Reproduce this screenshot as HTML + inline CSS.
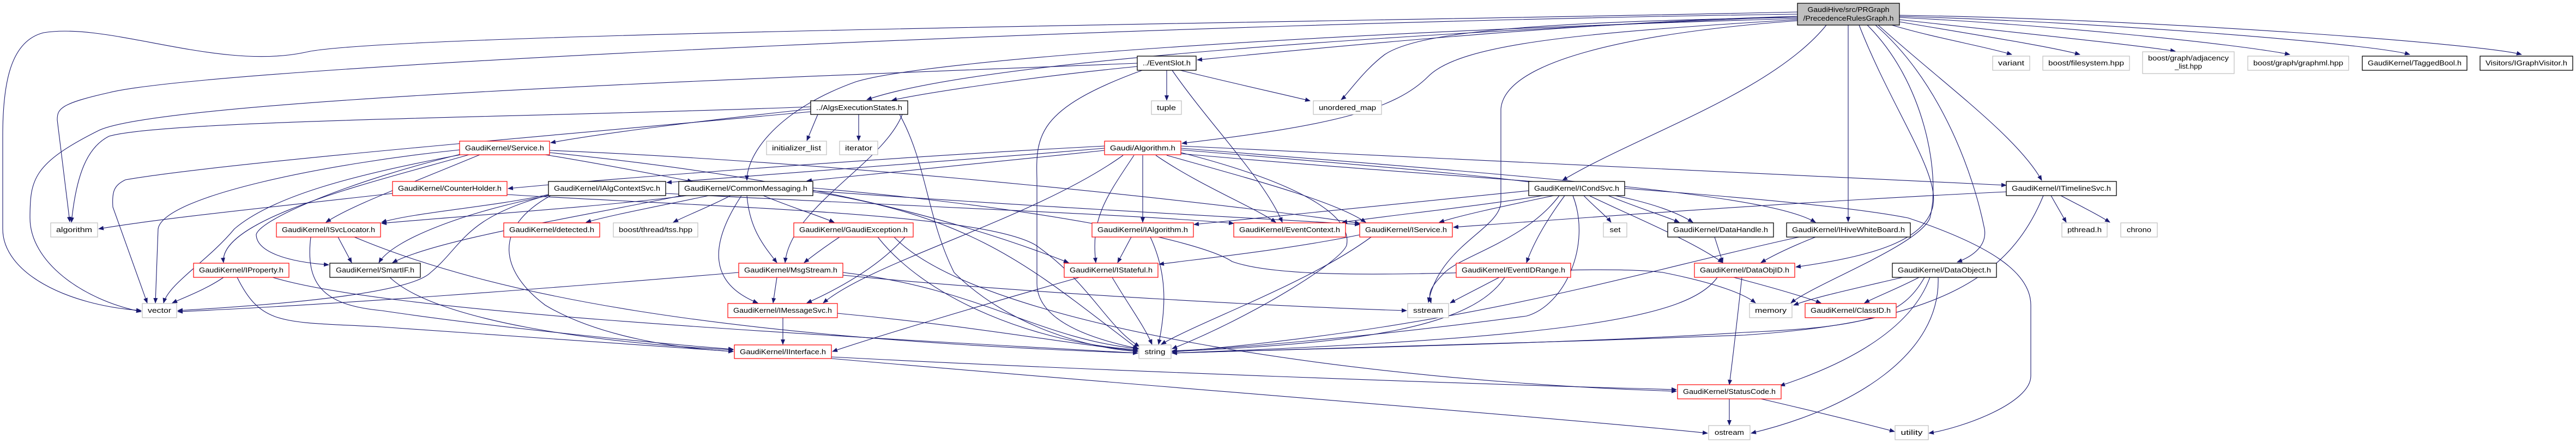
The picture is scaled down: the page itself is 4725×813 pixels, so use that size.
<!DOCTYPE html>
<html><head><meta charset="utf-8"><style>
html,body{margin:0;padding:0;background:#fff;}
svg{display:block;}
text{font-family:"Liberation Sans",sans-serif;font-size:12.5px;fill:#000;}
.e{fill:none;stroke:#191970;stroke-width:1.1;marker-end:url(#a);}
.r{fill:#fff;stroke:#ff0000;stroke-width:1.2;}
.k{fill:#fff;stroke:#000;stroke-width:1.3;}
.g{fill:#fff;stroke:#bfbfbf;stroke-width:1.2;}
</style></head><body>
<svg width="4725" height="813" viewBox="0 0 4725 813" xmlns="http://www.w3.org/2000/svg">
<defs><marker id="a" viewBox="0 0 10 8" refX="9" refY="4" markerWidth="10" markerHeight="8" markerUnits="userSpaceOnUse" orient="auto"><path d="M0,0 L10,4 L0,8 z" fill="#191970"/></marker></defs>
<g>
<path class="e" d="M3297,22 C2500,40 700,60 560,96 C400,130 200,40 80,60 C20,75 5,150 5,250 L5,420 C5,500 120,560 259,570"/>
<path class="e" d="M3297,26 C2200,40 400,120 200,170 C110,190 105,200 105,220 L128,407"/>
<path class="e" d="M3297,30 C2600,60 1800,110 1590,183"/>
<path class="e" d="M3297,34 C2400,60 1700,110 1570,150 C1430,200 1370,280 1370,331"/>
<path class="e" d="M3297,30 C2900,40 2400,90 2196,110"/>
<path class="e" d="M3297,32 C2800,40 2600,60 2540,100 C2500,130 2470,175 2460,183"/>
<path class="e" d="M3297,36 C2900,60 2680,80 2620,140 C2560,200 2450,230 2168,263"/>
<path class="e" d="M3297,38 C3000,60 2760,110 2753,200 L2753,370 C2753,420 2640,450 2620,555"/>
<path class="e" d="M3350,46 C3250,170 3000,250 2866,331"/>
<path class="e" d="M3390,46 L3390,407"/>
<path class="e" d="M3410,46 C3470,200 3560,320 3545,380 C3530,440 3440,470 3294,490"/>
<path class="e" d="M3440,46 C3560,150 3620,320 3640,420 C3645,450 3620,470 3590,481"/>
<path class="e" d="M3445,46 C3560,150 3700,250 3745,331"/>
<path class="e" d="M3470,46 C3550,70 3640,85 3690,100"/>
<path class="e" d="M3484,40 C3600,60 3760,85 3815,100"/>
<path class="e" d="M3484,36 C3650,55 3900,80 3990,94"/>
<path class="e" d="M3484,32 C3750,45 4100,80 4200,100"/>
<path class="e" d="M3484,30 C3850,40 4350,80 4420,100"/>
<path class="e" d="M3484,28 C3950,35 4550,80 4625,100"/>
<path class="e" d="M3425,46 C3530,150 3560,320 3540,400 C3520,450 3330,520 3285,556"/>
<path class="e" d="M2086,122 C1900,140 1700,170 1636,184"/>
<path class="e" d="M2140,129 L2140,184"/>
<path class="e" d="M2165,129 C2250,150 2340,170 2403,185"/>
<path class="e" d="M2150,129 C2220,230 2320,330 2352,408"/>
<path class="e" d="M2095,129 C1900,200 1900,250 1902,330 L1902,520 C1902,600 2040,630 2089,640"/>
<path class="e" d="M2086,116 C1500,140 300,180 180,240 C60,300 55,330 55,400 C55,480 150,550 259,572"/>
<path class="e" d="M1500,210 L1480,258"/>
<path class="e" d="M1575,210 L1575,258"/>
<path class="e" d="M1487,200 C1300,220 1100,245 1010,262"/>
<path class="e" d="M1487,196 C1000,215 300,220 200,250 C160,270 140,320 131,408"/>
<path class="e" d="M1487,205 C1000,250 400,300 230,330 C210,340 205,350 207,380 L270,556"/>
<path class="e" d="M1655,210 C1620,300 1450,380 1440,482"/>
<path class="e" d="M1650,210 C1700,300 1700,400 1750,500 C1850,600 2000,640 2087,645"/>
<path class="e" d="M2026,268 C1600,290 1100,330 932,346"/>
<path class="e" d="M2026,272 C1700,300 1350,325 1223,335"/>
<path class="e" d="M2026,276 C1800,300 1550,325 1480,332"/>
<path class="e" d="M2096,285 L2096,408"/>
<path class="e" d="M2120,285 C2200,340 2300,380 2340,408"/>
<path class="e" d="M2140,285 C2300,330 2450,370 2505,408"/>
<path class="e" d="M2080,285 C2030,360 2000,400 2010,482"/>
<path class="e" d="M2060,285 C1900,400 1600,480 1510,556"/>
<path class="e" d="M2166,280 C2400,340 2480,400 2470,450 C2460,480 2300,580 2150,640"/>
<path class="e" d="M2166,275 C2700,320 3000,340 3105,408"/>
<path class="e" d="M2166,268 C2800,300 3400,330 3680,340"/>
<path class="e" d="M2166,272 C2900,330 3250,360 3330,408"/>
<path class="e" d="M2166,282 C2700,330 3300,360 3500,400 C3650,450 3725,500 3725,560 L3725,690 C3725,740 3600,785 3538,795"/>
<path class="e" d="M1491,345 C1900,380 2200,440 2260,480 C2400,530 2900,480 3050,500 C3150,520 3200,540 3220,556"/>
<path class="e" d="M843,275 C600,300 300,360 290,420 L285,556"/>
<path class="e" d="M850,283 C650,320 500,360 430,420 C380,480 310,520 300,556"/>
<path class="e" d="M860,284 C700,330 400,400 410,482"/>
<path class="e" d="M880,284 C720,350 640,380 598,408"/>
<path class="e" d="M845,283 C650,330 480,400 470,430 C470,460 520,480 603,486"/>
<path class="e" d="M1000,284 C1100,300 1200,320 1270,333"/>
<path class="e" d="M1008,276 C1600,300 2300,380 2494,410"/>
<path class="e" d="M1008,280 C1400,320 1700,380 1960,482"/>
<path class="e" d="M720,355 C500,380 300,400 181,420"/>
<path class="e" d="M930,357 C1300,380 1800,390 1900,450 C2000,520 2030,600 2090,636"/>
<path class="e" d="M1006,357 C900,380 760,390 700,408"/>
<path class="e" d="M1006,359 C850,390 720,440 695,482"/>
<path class="e" d="M1006,358 C850,400 850,450 790,500 C750,540 500,560 326,570"/>
<path class="e" d="M1010,359 C900,420 920,500 1000,560 C1100,620 1250,640 1345,645"/>
<path class="e" d="M1221,355 C1700,380 2100,395 2263,410"/>
<path class="e" d="M1260,359 C1100,380 800,400 700,410"/>
<path class="e" d="M1250,359 C1050,400 800,440 720,482"/>
<path class="e" d="M1300,359 C1200,380 1120,395 1075,408"/>
<path class="e" d="M1340,359 C1300,380 1260,395 1235,408"/>
<path class="e" d="M1400,359 C1450,380 1500,395 1530,408"/>
<path class="e" d="M1370,359 C1375,420 1400,450 1425,482"/>
<path class="e" d="M1360,359 C1300,450 1300,520 1390,556"/>
<path class="e" d="M1491,350 C1900,380 2300,400 2494,412"/>
<path class="e" d="M1491,352 C1800,400 1900,500 2087,640"/>
<path class="e" d="M620,435 L645,482"/>
<path class="e" d="M570,435 C560,520 590,560 700,570 C900,600 1200,630 1345,641"/>
<path class="e" d="M650,435 C900,540 1300,620 2087,648"/>
<path class="e" d="M410,509 C380,530 340,545 316,556"/>
<path class="e" d="M435,509 C480,600 520,590 700,600 C1000,620 1250,640 1345,645"/>
<path class="e" d="M500,509 C700,570 1400,610 2087,648"/>
<path class="e" d="M715,509 C800,590 1100,630 1345,642"/>
<path class="e" d="M1355,500 C1000,530 600,560 326,572"/>
<path class="e" d="M1425,509 L1418,556"/>
<path class="e" d="M1546,500 C1800,530 1900,620 2087,640"/>
<path class="e" d="M1546,505 C1900,540 2400,565 2580,570"/>
<path class="e" d="M1436,583 L1436,632"/>
<path class="e" d="M1536,575 C1800,600 1950,630 2087,644"/>
<path class="e" d="M1540,435 C1510,455 1490,470 1475,482"/>
<path class="e" d="M1660,435 C1620,480 1560,520 1480,556"/>
<path class="e" d="M1610,435 C1700,550 1900,630 2087,642"/>
<path class="e" d="M1640,435 C1800,600 2500,700 3075,718"/>
<path class="e" d="M1525,655 C2000,680 2700,705 3075,715"/>
<path class="e" d="M1525,658 C2000,700 2900,770 3132,795"/>
<path class="e" d="M1980,509 C1800,560 1600,620 1527,645"/>
<path class="e" d="M2075,435 L2050,482"/>
<path class="e" d="M2110,435 C2140,500 2140,560 2125,632"/>
<path class="e" d="M2494,431 C2350,460 2200,475 2126,485"/>
<path class="e" d="M2515,435 C2400,520 2200,590 2130,632"/>
<path class="e" d="M2040,509 C2070,560 2100,600 2113,632"/>
<path class="e" d="M2804,350 C2500,380 2300,400 2190,412"/>
<path class="e" d="M2830,359 C2700,380 2550,395 2462,408"/>
<path class="e" d="M2850,359 C2750,380 2680,395 2640,408"/>
<path class="e" d="M2905,359 C2925,380 2945,395 2955,408"/>
<path class="e" d="M2950,359 C3000,380 3050,395 3080,408"/>
<path class="e" d="M2870,359 C2840,400 2815,440 2800,482"/>
<path class="e" d="M2915,359 C3000,400 3100,440 3160,482"/>
<path class="e" d="M2885,359 C2920,450 2870,560 2800,580 C2500,620 2250,640 2150,644"/>
<path class="e" d="M2860,359 C2800,440 2680,470 2650,500 C2620,530 2620,540 2625,556"/>
<path class="e" d="M2750,509 C2710,530 2680,545 2660,556"/>
<path class="e" d="M2760,509 C2700,600 2500,630 2150,645"/>
<path class="e" d="M3145,435 L3160,482"/>
<path class="e" d="M3330,435 C3280,455 3250,470 3230,482"/>
<path class="e" d="M3300,435 C3000,500 2700,600 2150,646"/>
<path class="e" d="M3680,352 C3300,370 2900,400 2666,417"/>
<path class="e" d="M3180,509 C3260,530 3310,545 3340,556"/>
<path class="e" d="M3195,509 C3185,600 3178,660 3172,706"/>
<path class="e" d="M3150,509 C3100,580 2900,620 2150,648"/>
<path class="e" d="M3490,509 C3400,530 3330,545 3290,560"/>
<path class="e" d="M3520,509 C3480,530 3440,545 3420,556"/>
<path class="e" d="M3540,509 C3500,620 3350,680 3265,708"/>
<path class="e" d="M3555,509 C3560,650 3400,750 3212,795"/>
<path class="e" d="M3530,509 C3490,580 3430,600 3200,610 C2900,630 2400,640 2150,648"/>
<path class="e" d="M3762,359 L3790,408"/>
<path class="e" d="M3780,359 C3820,380 3850,395 3870,408"/>
<path class="e" d="M3748,359 C3690,500 3570,590 3200,615 C2800,630 2300,645 2150,648"/>
<path class="e" d="M3172,732 L3172,780"/>
<path class="e" d="M3230,732 C3350,760 3430,780 3475,792"/>
</g>
<g>
<rect x="3297" y="6" width="187" height="40" fill="#bfbfbf" stroke="#000" stroke-width="1.3"/>
<text x="3390.5" y="22" text-anchor="middle" textLength="150" lengthAdjust="spacingAndGlyphs">GaudiHive/src/PRGraph</text>
<text x="3390.5" y="38" text-anchor="middle" textLength="166" lengthAdjust="spacingAndGlyphs">/PrecedenceRulesGraph.h</text>

<rect class="k" x="2086" y="103" width="108" height="26"/><text x="2140" y="120" text-anchor="middle" textLength="88" lengthAdjust="spacingAndGlyphs">../EventSlot.h</text>
<rect class="g" x="3655" y="103" width="68" height="26"/><text x="3689" y="120" text-anchor="middle" textLength="48" lengthAdjust="spacingAndGlyphs">variant</text>
<rect class="g" x="3747" y="103" width="159" height="26"/><text x="3826.5" y="120" text-anchor="middle" textLength="139" lengthAdjust="spacingAndGlyphs">boost/filesystem.hpp</text>
<rect class="g" x="3930" y="95" width="168" height="40"/><text x="4014" y="111" text-anchor="middle" textLength="148" lengthAdjust="spacingAndGlyphs">boost/graph/adjacency</text><text x="4014" y="126" text-anchor="middle" textLength="50" lengthAdjust="spacingAndGlyphs">_list.hpp</text>
<rect class="g" x="4123" y="103" width="185" height="26"/><text x="4215.5" y="120" text-anchor="middle" textLength="165" lengthAdjust="spacingAndGlyphs">boost/graph/graphml.hpp</text>
<rect class="k" x="4333" y="103" width="192" height="26"/><text x="4429" y="120" text-anchor="middle" textLength="172" lengthAdjust="spacingAndGlyphs">GaudiKernel/TaggedBool.h</text>
<rect class="k" x="4549" y="103" width="170" height="26"/><text x="4634" y="120" text-anchor="middle" textLength="150" lengthAdjust="spacingAndGlyphs">Visitors/IGraphVisitor.h</text>

<rect class="k" x="1487" y="185" width="178" height="25"/><text x="1576" y="202" text-anchor="middle" textLength="158" lengthAdjust="spacingAndGlyphs">../AlgsExecutionStates.h</text>
<rect class="g" x="2112" y="185" width="55" height="25"/><text x="2139.5" y="202" text-anchor="middle" textLength="35" lengthAdjust="spacingAndGlyphs">tuple</text>
<rect class="g" x="2409" y="185" width="125" height="25"/><text x="2471.5" y="202" text-anchor="middle" textLength="105" lengthAdjust="spacingAndGlyphs">unordered_map</text>

<rect class="g" x="1406" y="259" width="110" height="25"/><text x="1461" y="276" text-anchor="middle" textLength="90" lengthAdjust="spacingAndGlyphs">initializer_list</text>
<rect class="g" x="1540" y="259" width="70" height="25"/><text x="1575" y="276" text-anchor="middle" textLength="50" lengthAdjust="spacingAndGlyphs">iterator</text>
<rect class="r" x="843" y="259" width="165" height="25"/><text x="925.5" y="276" text-anchor="middle" textLength="145" lengthAdjust="spacingAndGlyphs">GaudiKernel/Service.h</text>
<rect class="r" x="2026" y="259" width="140" height="25"/><text x="2096" y="276" text-anchor="middle" textLength="120" lengthAdjust="spacingAndGlyphs">Gaudi/Algorithm.h</text>

<rect class="r" x="720" y="333" width="210" height="26"/><text x="825" y="350" text-anchor="middle" textLength="190" lengthAdjust="spacingAndGlyphs">GaudiKernel/CounterHolder.h</text>
<rect class="k" x="1006" y="333" width="215" height="26"/><text x="1113.5" y="350" text-anchor="middle" textLength="195" lengthAdjust="spacingAndGlyphs">GaudiKernel/IAlgContextSvc.h</text>
<rect class="k" x="1245" y="333" width="246" height="26"/><text x="1368" y="350" text-anchor="middle" textLength="226" lengthAdjust="spacingAndGlyphs">GaudiKernel/CommonMessaging.h</text>
<rect class="k" x="2804" y="333" width="176" height="26"/><text x="2892" y="350" text-anchor="middle" textLength="156" lengthAdjust="spacingAndGlyphs">GaudiKernel/ICondSvc.h</text>
<rect class="k" x="3680" y="333" width="202" height="26"/><text x="3781" y="350" text-anchor="middle" textLength="182" lengthAdjust="spacingAndGlyphs">GaudiKernel/ITimelineSvc.h</text>

<rect class="g" x="93" y="409" width="86" height="26"/><text x="136" y="426" text-anchor="middle" textLength="66" lengthAdjust="spacingAndGlyphs">algorithm</text>
<rect class="r" x="507" y="409" width="191" height="26"/><text x="602.5" y="426" text-anchor="middle" textLength="171" lengthAdjust="spacingAndGlyphs">GaudiKernel/ISvcLocator.h</text>
<rect class="r" x="924" y="409" width="176" height="26"/><text x="1012" y="426" text-anchor="middle" textLength="156" lengthAdjust="spacingAndGlyphs">GaudiKernel/detected.h</text>
<rect class="g" x="1125" y="409" width="155" height="26"/><text x="1202.5" y="426" text-anchor="middle" textLength="135" lengthAdjust="spacingAndGlyphs">boost/thread/tss.hpp</text>
<rect class="r" x="1456" y="409" width="219" height="26"/><text x="1565.5" y="426" text-anchor="middle" textLength="199" lengthAdjust="spacingAndGlyphs">GaudiKernel/GaudiException.h</text>
<rect class="r" x="2003" y="409" width="186" height="26"/><text x="2096" y="426" text-anchor="middle" textLength="166" lengthAdjust="spacingAndGlyphs">GaudiKernel/IAlgorithm.h</text>
<rect class="r" x="2263" y="409" width="205" height="26"/><text x="2365.5" y="426" text-anchor="middle" textLength="185" lengthAdjust="spacingAndGlyphs">GaudiKernel/EventContext.h</text>
<rect class="r" x="2494" y="409" width="170" height="26"/><text x="2579" y="426" text-anchor="middle" textLength="150" lengthAdjust="spacingAndGlyphs">GaudiKernel/IService.h</text>
<rect class="g" x="2941" y="409" width="43" height="26"/><text x="2962.5" y="426" text-anchor="middle" textLength="20" lengthAdjust="spacingAndGlyphs">set</text>
<rect class="k" x="3059" y="409" width="194" height="26"/><text x="3156" y="426" text-anchor="middle" textLength="174" lengthAdjust="spacingAndGlyphs">GaudiKernel/DataHandle.h</text>
<rect class="k" x="3277" y="409" width="227" height="26"/><text x="3390.5" y="426" text-anchor="middle" textLength="207" lengthAdjust="spacingAndGlyphs">GaudiKernel/IHiveWhiteBoard.h</text>
<rect class="g" x="3782" y="409" width="83" height="26"/><text x="3823.5" y="426" text-anchor="middle" textLength="63" lengthAdjust="spacingAndGlyphs">pthread.h</text>
<rect class="g" x="3890" y="409" width="67" height="26"/><text x="3923.5" y="426" text-anchor="middle" textLength="45" lengthAdjust="spacingAndGlyphs">chrono</text>

<rect class="r" x="355" y="483" width="175" height="26"/><text x="442.5" y="500" text-anchor="middle" textLength="155" lengthAdjust="spacingAndGlyphs">GaudiKernel/IProperty.h</text>
<rect class="k" x="605" y="483" width="166" height="26"/><text x="688" y="500" text-anchor="middle" textLength="144" lengthAdjust="spacingAndGlyphs">GaudiKernel/SmartIF.h</text>
<rect class="r" x="1355" y="483" width="191" height="26"/><text x="1450.5" y="500" text-anchor="middle" textLength="171" lengthAdjust="spacingAndGlyphs">GaudiKernel/MsgStream.h</text>
<rect class="r" x="1952" y="483" width="172" height="26"/><text x="2038" y="500" text-anchor="middle" textLength="152" lengthAdjust="spacingAndGlyphs">GaudiKernel/IStateful.h</text>
<rect class="r" x="2671" y="483" width="210" height="26"/><text x="2776" y="500" text-anchor="middle" textLength="190" lengthAdjust="spacingAndGlyphs">GaudiKernel/EventIDRange.h</text>
<rect class="r" x="3108" y="483" width="184" height="26"/><text x="3200" y="500" text-anchor="middle" textLength="164" lengthAdjust="spacingAndGlyphs">GaudiKernel/DataObjID.h</text>
<rect class="k" x="3471" y="483" width="191" height="26"/><text x="3566.5" y="500" text-anchor="middle" textLength="171" lengthAdjust="spacingAndGlyphs">GaudiKernel/DataObject.h</text>

<rect class="g" x="261" y="557" width="63" height="26"/><text x="292.5" y="574" text-anchor="middle" textLength="43" lengthAdjust="spacingAndGlyphs">vector</text>
<rect class="r" x="1335" y="557" width="201" height="26"/><text x="1435.5" y="574" text-anchor="middle" textLength="181" lengthAdjust="spacingAndGlyphs">GaudiKernel/IMessageSvc.h</text>
<rect class="g" x="2582" y="557" width="75" height="26"/><text x="2619.5" y="574" text-anchor="middle" textLength="55" lengthAdjust="spacingAndGlyphs">sstream</text>
<rect class="g" x="3209" y="557" width="78" height="26"/><text x="3248" y="574" text-anchor="middle" textLength="58" lengthAdjust="spacingAndGlyphs">memory</text>
<rect class="r" x="3311" y="557" width="167" height="26"/><text x="3394.5" y="574" text-anchor="middle" textLength="147" lengthAdjust="spacingAndGlyphs">GaudiKernel/ClassID.h</text>

<rect class="r" x="1347" y="633" width="178" height="25"/><text x="1436" y="650" text-anchor="middle" textLength="158" lengthAdjust="spacingAndGlyphs">GaudiKernel/IInterface.h</text>
<rect class="g" x="2089" y="633" width="59" height="25"/><text x="2118.5" y="650" text-anchor="middle" textLength="38" lengthAdjust="spacingAndGlyphs">string</text>

<rect class="r" x="3077" y="706" width="190" height="26"/><text x="3172" y="723" text-anchor="middle" textLength="170" lengthAdjust="spacingAndGlyphs">GaudiKernel/StatusCode.h</text>

<rect class="g" x="3134" y="781" width="76" height="26"/><text x="3172" y="798" text-anchor="middle" textLength="54" lengthAdjust="spacingAndGlyphs">ostream</text>
<rect class="g" x="3476" y="781" width="61" height="26"/><text x="3506.5" y="798" text-anchor="middle" textLength="40" lengthAdjust="spacingAndGlyphs">utility</text>
</g>
</svg>
</body></html>
